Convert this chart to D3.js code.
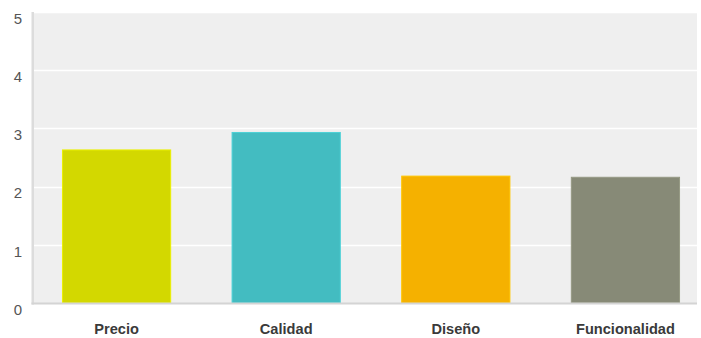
<!DOCTYPE html>
<html>
<head>
<meta charset="utf-8">
<script src="https://cdn.jsdelivr.net/npm/d3@7"></script>
<style>
  html, body { margin: 0; padding: 0; background: #fff; }
  svg { display: block; font-family: "Liberation Sans", Arial, sans-serif; }
</style>
</head>
<body>
<svg id="chart" width="701" height="338"></svg>
<script>
// Average rating per product attribute
const categories = ["Precio", "Calidad", "Diseño", "Funcionalidad"];
const values = [2.63, 2.93, 2.18, 2.16];
const colors = ["#d3d800", "#43bcc1", "#f5b100", "#878a77"];
const yTicks = [0, 1, 2, 3, 4, 5];

const svg = d3.select("#chart");
const plot = { left: 33, right: 697, top: 12, bottom: 303 };

const x = d3.scaleBand()
  .domain(categories)
  .range([45.5, 696.5])
  .paddingInner(0.362)
  .paddingOuter(0.1);

const y = d3.scaleLinear()
  .domain([0, 5])
  .range([plot.bottom, plot.top]);

// plot background
svg.append("rect")
  .attr("x", plot.left).attr("y", plot.top)
  .attr("width", plot.right - plot.left)
  .attr("height", plot.bottom - plot.top)
  .attr("fill", "#efefef");

// horizontal gridlines
svg.append("g")
  .selectAll("line")
  .data(yTicks.filter(d => d > 0))
  .join("line")
  .attr("x1", plot.left).attr("x2", plot.right)
  .attr("y1", d => Math.round(y(d)) + 0.5)
  .attr("y2", d => Math.round(y(d)) + 0.5)
  .attr("stroke", "#ffffff")
  .attr("stroke-width", 1.5);

// bars
svg.append("g")
  .selectAll("rect")
  .data(categories)
  .join("rect")
  .attr("x", d => x(d))
  .attr("width", x.bandwidth())
  .attr("y", (d, i) => y(values[i]))
  .attr("height", (d, i) => y(0) - y(values[i]))
  .attr("fill", (d, i) => colors[i])
  .attr("stroke", (d, i) => d3.color(colors[i]).brighter(0.3))
  .attr("stroke-width", 1);

// left axis strip
svg.append("rect")
  .attr("x", plot.left - 1.5).attr("y", plot.top)
  .attr("width", 2.5).attr("height", plot.bottom - plot.top + 1.5)
  .attr("fill", "#dcdcdc");

// bottom axis line
svg.append("rect")
  .attr("x", plot.left - 1.5).attr("y", plot.bottom - 0.5)
  .attr("width", plot.right - plot.left + 1.5).attr("height", 2)
  .attr("fill", "#d4d4d4");

// y axis labels, set just below each gridline
const yAxis = d3.axisLeft(y).tickValues(yTicks).tickSize(0).tickPadding(0).tickFormat(d3.format("d"));
const gy = svg.append("g").attr("transform", `translate(${plot.left - 15},6)`).call(yAxis);
gy.select(".domain").remove();
gy.selectAll("text")
  .attr("text-anchor", "middle")
  .attr("dy", "0.35em")
  .attr("fill", "#555")
  .style("font-size", "15px");

// x axis labels
const xAxis = d3.axisBottom(x).tickSize(0).tickPadding(0);
const gx = svg.append("g").attr("transform", `translate(0,${plot.bottom + 31})`).call(xAxis);
gx.select(".domain").remove();
gx.selectAll("text")
  .attr("fill", "#3a3a3a")
  .attr("dy", "0")
  .style("font-size", "14.6px")
  .style("font-weight", "bold");
</script>
</body>
</html>
